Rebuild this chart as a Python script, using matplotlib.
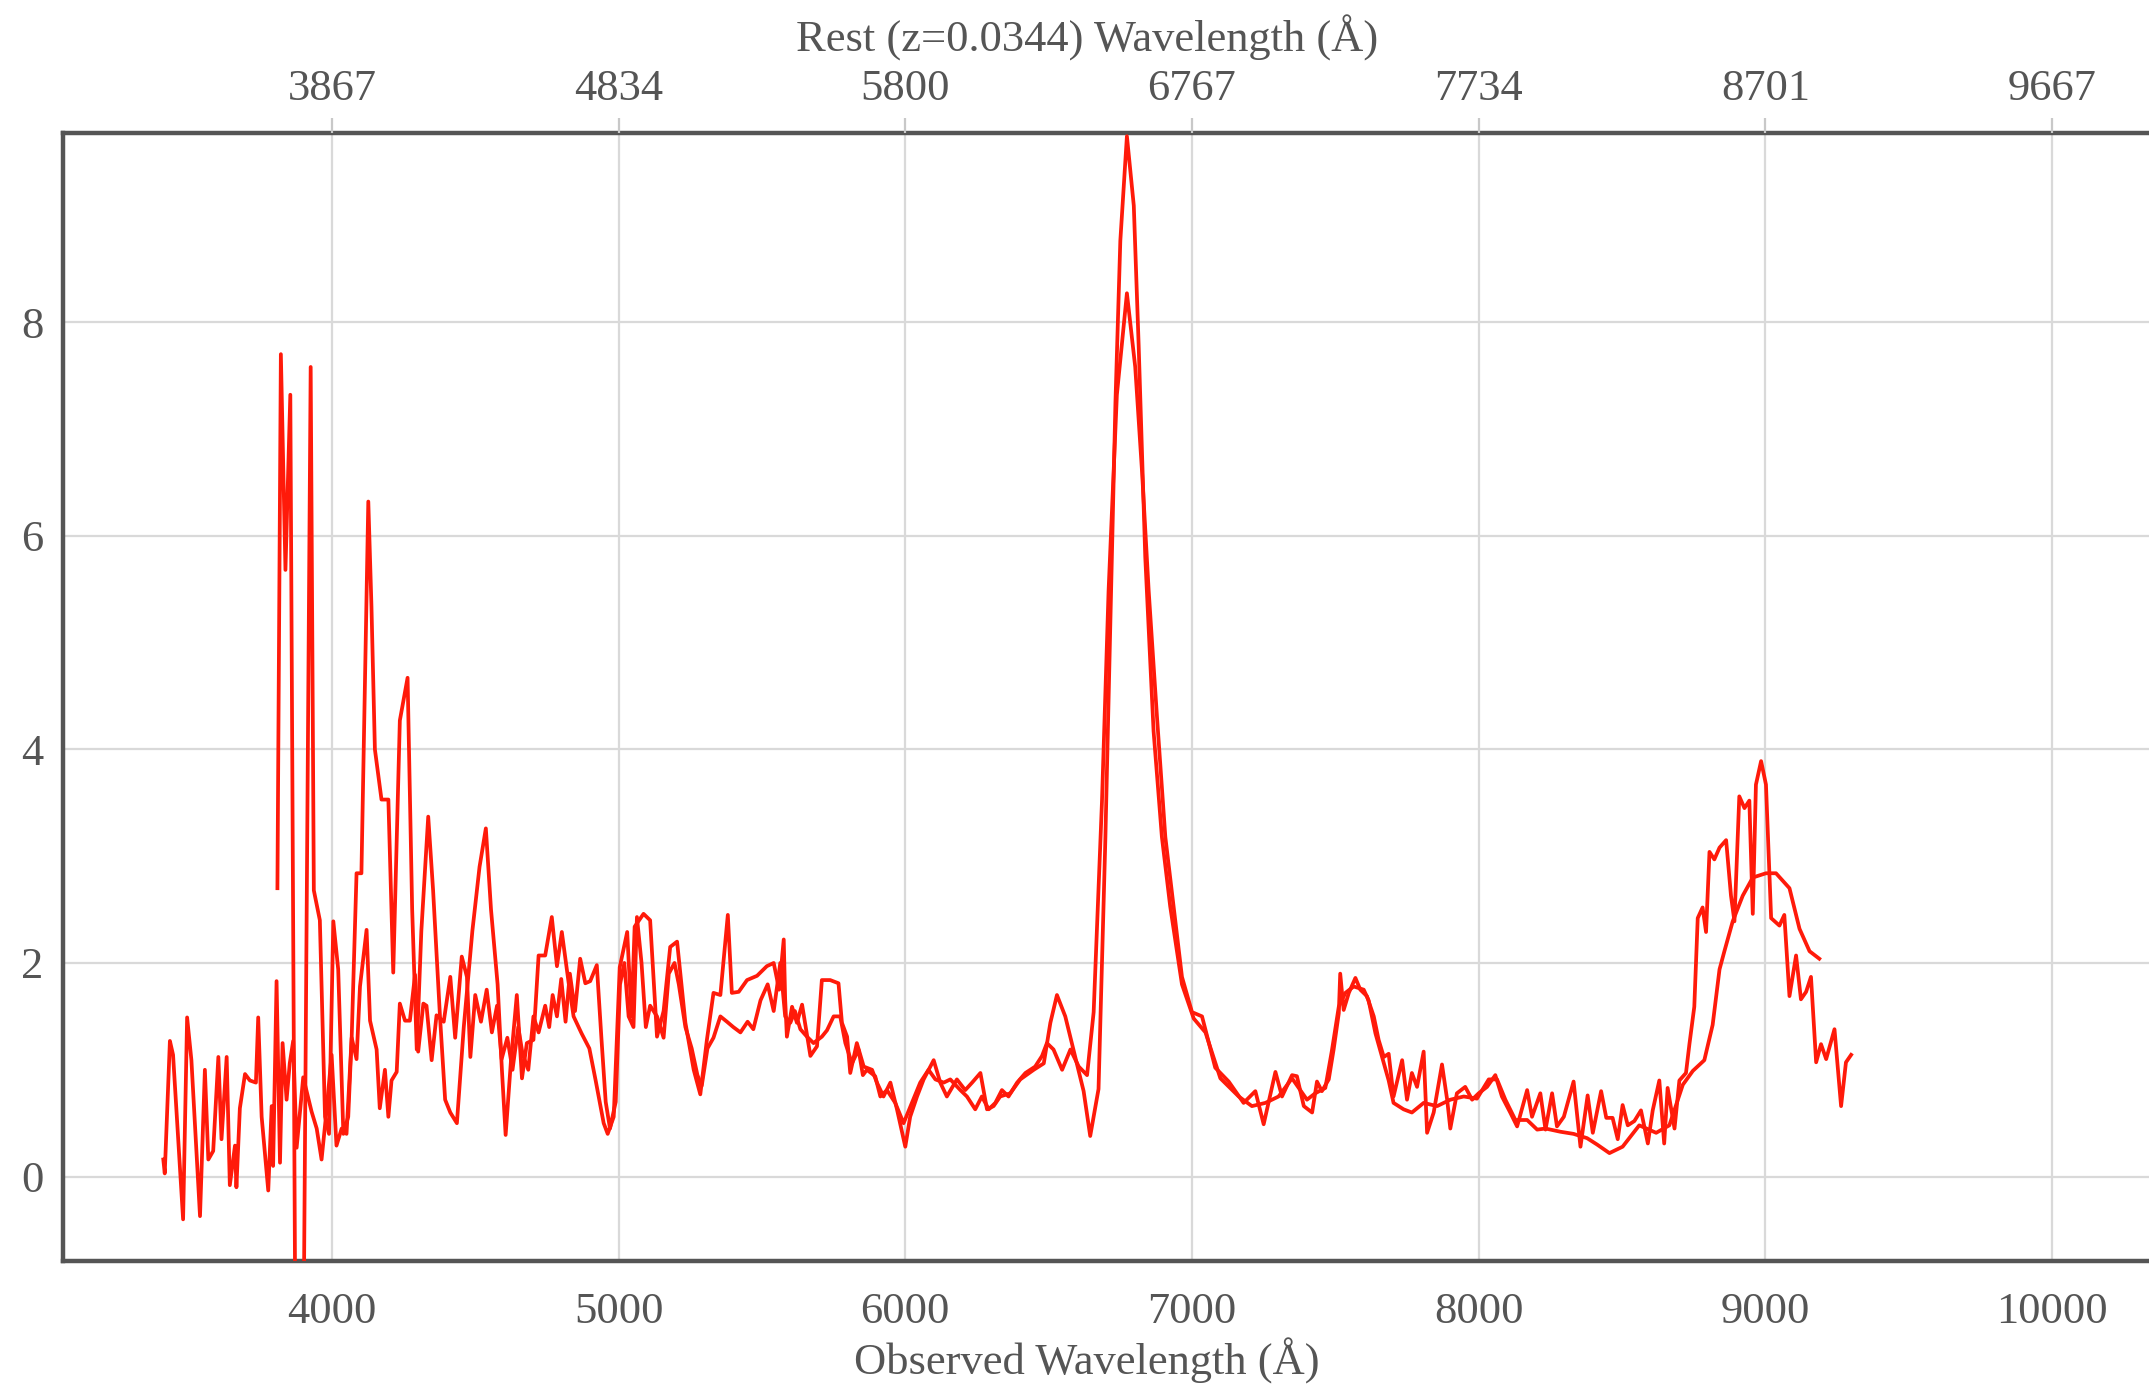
import numpy as np
import matplotlib
matplotlib.use("Agg")
import matplotlib.pyplot as plt

# spectrum A (noisier one, 3410-9300 A)
spec_a = [
    (3412, 0.16), (3417, 0.03), (3435, 1.27), (3446, 1.14), (3481, -0.40), (3495, 1.49),
    (3510, 1.09), (3540, -0.37), (3557, 1.00), (3569, 0.16), (3586, 0.24), (3604, 1.12),
    (3615, 0.35), (3633, 1.12), (3644, -0.08), (3662, 0.29), (3667, -0.10), (3679, 0.64),
    (3697, 0.96), (3714, 0.90), (3735, 0.88), (3743, 1.49), (3755, 0.56), (3778, -0.13),
    (3790, 0.66), (3795, 0.10), (3807, 1.83), (3819, 0.13), (3828, 1.25), (3842, 0.72),
    (3853, 1.06), (3865, 1.27), (3877, 0.27), (3900, 0.93), (3929, 0.61), (3947, 0.45),
    (3964, 0.16), (3981, 0.61), (3999, 1.14), (4016, 0.29), (4034, 0.45), (4051, 0.40),
    (4069, 1.30), (4086, 1.10), (4098, 1.78), (4121, 2.31), (4133, 1.46), (4156, 1.19),
    (4167, 0.64), (4185, 1.00), (4197, 0.56), (4208, 0.90), (4226, 0.98), (4237, 1.62),
    (4255, 1.46), (4272, 1.46), (4290, 1.89), (4301, 1.17), (4319, 1.62), (4330, 1.60),
    (4348, 1.09), (4365, 1.51), (4390, 1.45), (4413, 1.87), (4430, 1.30), (4453, 2.06),
    (4471, 1.87), (4483, 1.12), (4500, 1.70), (4520, 1.45), (4540, 1.75), (4558, 1.35),
    (4576, 1.60), (4592, 1.10), (4612, 1.30), (4630, 1.00), (4650, 1.40), (4665, 1.15),
    (4685, 1.00), (4703, 1.50), (4721, 1.35), (4744, 1.60), (4758, 1.40), (4770, 1.70),
    (4785, 1.50), (4800, 1.85), (4815, 1.45), (4830, 1.90), (4848, 1.55), (4866, 2.04),
    (4884, 1.81), (4901, 1.83), (4924, 1.98), (4940, 1.30), (4955, 0.70), (4970, 0.45),
    (4990, 0.70), (5005, 1.80), (5020, 2.00), (5035, 1.50), (5052, 1.40), (5064, 2.43),
    (5080, 2.00), (5095, 1.40), (5110, 1.60), (5134, 1.50), (5157, 1.30), (5175, 1.90),
    (5195, 2.00), (5210, 1.80), (5233, 1.40), (5255, 1.20), (5275, 0.95), (5290, 0.85),
    (5310, 1.20), (5331, 1.30), (5355, 1.50), (5378, 1.45), (5400, 1.40), (5425, 1.35),
    (5450, 1.45), (5470, 1.38), (5495, 1.65), (5520, 1.80), (5541, 1.55), (5564, 2.00),
    (5581, 1.50), (5599, 1.44), (5615, 1.55), (5634, 1.38), (5657, 1.31), (5680, 1.25),
    (5709, 1.31), (5727, 1.37), (5750, 1.50), (5773, 1.50), (5791, 1.25), (5814, 1.06),
    (5837, 1.19), (5852, 0.95), (5866, 1.00), (5895, 0.94), (5913, 0.75), (5936, 0.81),
    (5965, 0.69), (5994, 0.50), (6023, 0.69), (6052, 0.88), (6081, 1.00), (6105, 0.91),
    (6134, 0.88), (6157, 0.91), (6192, 0.81), (6215, 0.75), (6244, 0.63), (6267, 0.75),
    (6291, 0.63), (6314, 0.69), (6337, 0.81), (6360, 0.75), (6390, 0.88), (6419, 0.97),
    (6453, 1.03), (6477, 1.13), (6494, 1.25), (6517, 1.19), (6547, 1.00), (6576, 1.19),
    (6605, 1.03), (6634, 0.95), (6657, 1.54), (6686, 3.51), (6709, 5.48), (6738, 7.32),
    (6773, 8.27), (6802, 7.58), (6826, 6.59), (6849, 5.48), (6878, 4.30), (6907, 3.18),
    (6930, 2.66), (6965, 1.87), (7000, 1.54), (7035, 1.50), (7081, 1.02), (7128, 0.89),
    (7180, 0.69), (7221, 0.80), (7250, 0.49), (7291, 0.98), (7314, 0.75), (7349, 0.95),
    (7366, 0.94), (7390, 0.66), (7419, 0.60), (7436, 0.89), (7453, 0.80), (7477, 0.91),
    (7494, 1.19), (7512, 1.53), (7517, 1.90), (7529, 1.56), (7547, 1.72), (7570, 1.86),
    (7587, 1.75), (7610, 1.69), (7634, 1.50), (7651, 1.28), (7669, 1.12), (7686, 1.15),
    (7703, 0.75), (7733, 1.09), (7750, 0.72), (7767, 0.97), (7785, 0.84), (7808, 1.17),
    (7820, 0.41), (7843, 0.60), (7872, 1.05), (7890, 0.72), (7901, 0.45), (7924, 0.78),
    (7953, 0.84), (7977, 0.72), (8000, 0.78), (8029, 0.84), (8058, 0.95), (8081, 0.75),
    (8110, 0.60), (8134, 0.47), (8169, 0.81), (8186, 0.56), (8215, 0.78), (8233, 0.44),
    (8256, 0.78), (8273, 0.47), (8297, 0.56), (8331, 0.89), (8355, 0.28), (8380, 0.76),
    (8398, 0.41), (8427, 0.80), (8445, 0.55), (8467, 0.55), (8485, 0.35), (8502, 0.67),
    (8520, 0.48), (8543, 0.52), (8566, 0.62), (8590, 0.31), (8607, 0.62), (8630, 0.90),
    (8647, 0.31), (8659, 0.83), (8683, 0.45), (8700, 0.90), (8723, 0.97), (8735, 1.24),
    (8752, 1.59), (8764, 2.42), (8781, 2.52), (8793, 2.29), (8805, 3.04), (8822, 2.97),
    (8840, 3.08), (8863, 3.15), (8880, 2.63), (8892, 2.39), (8909, 3.56), (8927, 3.45),
    (8944, 3.52), (8956, 2.46), (8967, 3.67), (8985, 3.89), (9002, 3.67), (9020, 2.42),
    (9049, 2.35), (9066, 2.45), (9084, 1.69), (9107, 2.07), (9124, 1.66), (9142, 1.73),
    (9159, 1.87), (9177, 1.07), (9194, 1.24), (9212, 1.10), (9241, 1.38), (9264, 0.66),
    (9281, 1.07), (9299, 1.14),
]

# spectrum B (3810-9190 A)
spec_b = [
    (3810, 2.70), (3822, 7.70), (3838, 5.68), (3855, 7.32), (3872, -1.20), (3902, -1.20),
    (3926, 7.58), (3937, 2.68), (3958, 2.40), (3976, 0.56), (3990, 0.40), (4005, 2.39),
    (4022, 1.94), (4040, 0.40), (4057, 0.56), (4069, 1.30), (4086, 2.84), (4103, 2.84),
    (4127, 6.32), (4138, 5.34), (4150, 4.00), (4173, 3.53), (4197, 3.53), (4214, 1.91),
    (4237, 4.27), (4264, 4.67), (4280, 2.50), (4296, 1.19), (4312, 2.30), (4336, 3.37),
    (4353, 2.68), (4377, 1.50), (4395, 0.72), (4413, 0.60), (4436, 0.50), (4460, 1.40),
    (4490, 2.30), (4515, 2.90), (4537, 3.26), (4555, 2.50), (4578, 1.80), (4593, 1.00),
    (4606, 0.39), (4625, 1.10), (4645, 1.70), (4663, 0.92), (4680, 1.25), (4703, 1.28),
    (4721, 2.07), (4744, 2.07), (4767, 2.43), (4785, 1.97), (4802, 2.29), (4826, 1.81),
    (4843, 1.50), (4871, 1.34), (4898, 1.20), (4920, 0.90), (4948, 0.50), (4962, 0.40),
    (4983, 0.56), (5004, 1.96), (5030, 2.29), (5045, 1.50), (5056, 2.34), (5087, 2.46),
    (5110, 2.40), (5134, 1.31), (5157, 1.55), (5180, 2.15), (5204, 2.20), (5233, 1.44),
    (5262, 1.00), (5285, 0.77), (5308, 1.28), (5331, 1.72), (5355, 1.70), (5381, 2.45),
    (5395, 1.72), (5419, 1.73), (5448, 1.84), (5483, 1.88), (5517, 1.97), (5541, 2.00),
    (5560, 1.75), (5576, 2.22), (5581, 1.66), (5587, 1.31), (5605, 1.59), (5622, 1.44),
    (5640, 1.61), (5669, 1.13), (5692, 1.22), (5709, 1.84), (5738, 1.84), (5767, 1.81),
    (5779, 1.44), (5797, 1.31), (5808, 0.97), (5831, 1.25), (5855, 1.03), (5884, 1.00),
    (5901, 0.88), (5924, 0.75), (5948, 0.88), (5971, 0.63), (6000, 0.28), (6017, 0.56),
    (6041, 0.75), (6064, 0.91), (6099, 1.09), (6122, 0.88), (6145, 0.75), (6180, 0.91),
    (6209, 0.81), (6233, 0.88), (6262, 0.97), (6285, 0.63), (6308, 0.66), (6331, 0.75),
    (6366, 0.78), (6401, 0.91), (6448, 1.00), (6483, 1.06), (6506, 1.44), (6529, 1.70),
    (6558, 1.50), (6590, 1.15), (6622, 0.80), (6645, 0.38), (6674, 0.82), (6698, 3.18),
    (6715, 5.15), (6733, 7.25), (6750, 8.76), (6773, 9.74), (6797, 9.09), (6814, 7.78),
    (6837, 5.80), (6866, 4.17), (6895, 3.18), (6924, 2.53), (6965, 1.80), (7006, 1.48),
    (7047, 1.35), (7099, 0.92), (7163, 0.75), (7209, 0.66), (7256, 0.69), (7302, 0.75),
    (7349, 0.92), (7401, 0.72), (7430, 0.78), (7465, 0.83), (7488, 1.18), (7512, 1.59),
    (7535, 1.72), (7564, 1.78), (7599, 1.75), (7616, 1.65), (7640, 1.34), (7663, 1.12),
    (7686, 0.90), (7703, 0.69), (7738, 0.63), (7767, 0.60), (7808, 0.69), (7855, 0.66),
    (7901, 0.72), (7948, 0.75), (7994, 0.73), (8035, 0.91), (8064, 0.91), (8093, 0.72),
    (8128, 0.53), (8169, 0.53), (8204, 0.44), (8233, 0.45), (8285, 0.42), (8331, 0.40),
    (8378, 0.36), (8413, 0.30), (8456, 0.22), (8502, 0.28), (8560, 0.48), (8619, 0.41),
    (8665, 0.48), (8712, 0.86), (8747, 0.99), (8787, 1.09), (8816, 1.42), (8840, 1.94),
    (8857, 2.11), (8886, 2.39), (8921, 2.63), (8956, 2.80), (9002, 2.84), (9037, 2.84),
    (9084, 2.70), (9119, 2.32), (9154, 2.11), (9188, 2.04),
]

obs_ticks = [4000, 5000, 6000, 7000, 8000, 9000, 10000]
rest_labels = ["3867", "4834", "5800", "6767", "7734", "8701", "9667"]
y_ticks = [0, 2, 4, 6, 8]

wave_a, flux_a = np.array(spec_a).T
wave_b, flux_b = np.array(spec_b).T

plt.rcParams['font.family'] = ['Liberation Serif', 'DejaVu Serif']
text_col = '#555555'
spine_col = '#555555'
grid_col = '#d9d9d9'

fig = plt.figure(figsize=(21.49, 13.86), dpi=100)
ax = fig.add_axes([0.0293, 0.0902, 0.9707, 0.8138])

ax.plot(wave_a, flux_a, color='#ff1a0a', lw=2.7, zorder=3)
ax.plot(wave_b, flux_b, color='#ff1a0a', lw=2.7, zorder=3)

ax.set_xlim(3062, 10338)
ax.set_ylim(-0.79, 9.77)
ax.set_xticks(obs_ticks)
ax.set_yticks(y_ticks)
ax.grid(True, color=grid_col, lw=1.6, zorder=0)
ax.tick_params(axis='both', length=0, labelsize=32, colors=text_col)
ax.tick_params(axis='x', pad=22)
ax.tick_params(axis='y', pad=14)
ax.set_xlabel('Observed Wavelength (Å)', fontsize=32, color=text_col)
ax.xaxis.set_label_coords(0.491, -0.068)

for side in ['left', 'bottom', 'top']:
    ax.spines[side].set_color(spine_col)
    ax.spines[side].set_linewidth(3.2)
ax.spines['right'].set_visible(False)

# top axis with rest-frame labels
ax2 = ax.twiny()
ax2.set_xlim(ax.get_xlim())
ax2.set_xticks(obs_ticks)
ax2.set_xticklabels(rest_labels)
ax2.tick_params(axis='x', length=11, width=1.6, color='#c8c8c8',
                labelsize=32, labelcolor=text_col, pad=6)
ax2.set_xlabel('Rest (z=0.0344) Wavelength (Å)', fontsize=32, color=text_col)
ax2.xaxis.set_label_coords(0.491, 1.072)
for side in ['left', 'bottom', 'top', 'right']:
    ax2.spines[side].set_visible(False)

fig.savefig('out.png', dpi=100, facecolor='white')
